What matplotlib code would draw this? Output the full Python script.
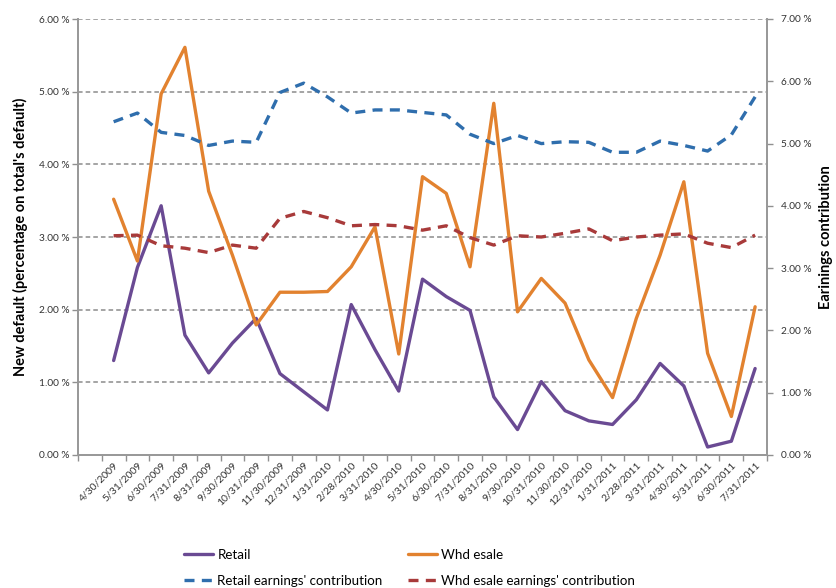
import matplotlib
matplotlib.use("Agg")
import matplotlib.pyplot as plt
from matplotlib.ticker import FuncFormatter, FixedLocator
import numpy as np

dates = ["4/30/2009", "5/31/2009", "6/30/2009", "7/31/2009", "8/31/2009", "9/30/2009",
         "10/31/2009", "11/30/2009", "12/31/2009", "1/31/2010", "2/28/2010", "3/31/2010",
         "4/30/2010", "5/31/2010", "6/30/2010", "7/31/2010", "8/31/2010", "9/30/2010",
         "10/31/2010", "11/30/2010", "12/31/2010", "1/31/2011", "2/28/2011", "3/31/2011",
         "4/30/2011", "5/31/2011", "6/30/2011", "7/31/2011"]

retail = [1.30, 2.58, 3.43, 1.65, 1.13, 1.54, 1.88, 1.12, 0.87, 0.62, 2.07, 1.45,
          0.88, 2.42, 2.18, 1.99, 0.80, 0.35, 1.01, 0.61, 0.47, 0.42, 0.76, 1.26,
          0.95, 0.11, 0.19, 1.19]
wholesale = [3.52, 2.67, 4.97, 5.61, 3.63, 2.75, 1.79, 2.24, 2.24, 2.25, 2.59, 3.14,
             1.39, 3.83, 3.60, 2.59, 4.84, 1.97, 2.43, 2.09, 1.31, 0.79, 1.88, 2.75,
             3.76, 1.40, 0.53, 2.04]
retail_earn = [5.35, 5.49, 5.18, 5.13, 4.97, 5.04, 5.02, 5.82, 5.97, 5.75, 5.49, 5.54,
               5.54, 5.50, 5.46, 5.15, 5.00, 5.13, 5.00, 5.03, 5.02, 4.86, 4.86, 5.04,
               4.97, 4.88, 5.14, 5.75]
wholesale_earn = [3.52, 3.53, 3.36, 3.32, 3.25, 3.37, 3.32, 3.80, 3.91, 3.81, 3.68, 3.70,
                  3.68, 3.61, 3.68, 3.49, 3.37, 3.52, 3.50, 3.56, 3.63, 3.44, 3.50, 3.53,
                  3.55, 3.40, 3.33, 3.53]

labels = ["Retail", "Whd esale", "Retail earnings' contribution", "Whd esale earnings' contribution"]

plt.rcParams['font.family'] = ['Lato', 'DejaVu Sans']

fig = plt.figure(figsize=(8.37, 5.88), dpi=100)
ax = fig.add_axes([78/837, 1-455/588, (767-78)/837, (455-19)/588])
ax2 = ax.twinx()

x = np.arange(len(dates))
c_purple = "#6A4A93"
c_orange = "#E2822F"
c_blue = "#2F6EAD"
c_red = "#A83A3A"

l1, = ax.plot(x, retail, color=c_purple, lw=2.4, solid_capstyle='round', zorder=5)
l2, = ax.plot(x, wholesale, color=c_orange, lw=2.4, solid_capstyle='round', zorder=5)
l3, = ax2.plot(x, retail_earn, color=c_blue, lw=2.4, dashes=(3, 2.2), zorder=4)
l4, = ax2.plot(x, wholesale_earn, color=c_red, lw=2.4, dashes=(3, 2.2), zorder=4)

ax.set_xlim(-1.5, len(dates) - 0.5)
ax.set_ylim(0, 6)
ax2.set_ylim(0, 7)
ax.set_yticks(np.arange(0, 6.01, 1))
ax2.set_yticks(np.arange(0, 7.01, 1))
fmt = FuncFormatter(lambda v, p: f"{v:.2f} %")
ax.yaxis.set_major_formatter(fmt)
ax2.yaxis.set_major_formatter(fmt)

ax.set_xticks(x)
ax.set_xticklabels(dates, rotation=45, ha='right', rotation_mode='anchor', fontsize=7.5, color="#333333")
ax.tick_params(axis='x', which='major', length=0, pad=4)
ax.xaxis.set_minor_locator(FixedLocator(np.arange(-1.5, len(dates), 1.0)))
ax.tick_params(axis='x', which='minor', length=4, width=1, color="#909090", direction='out')

ax.tick_params(axis='y', length=4, width=1, color="#909090", labelsize=7.3, labelcolor="#333333", pad=2)
ax2.tick_params(axis='y', length=4, width=1, color="#909090", labelsize=7.3, labelcolor="#333333", pad=6)

ax.grid(axis='y', color="#8C8C8C", linestyle=(0, (3, 2)), lw=1.1)
ax.set_axisbelow(True)

for a in (ax, ax2):
    a.spines['top'].set_visible(False)
    for s in ('left', 'right', 'bottom'):
        a.spines[s].set_color("#999999")
        a.spines[s].set_linewidth(1.3)

ax.set_ylabel("New default (percentage on total's default)", fontsize=10.5, fontweight='bold', labelpad=8)
ax2.set_ylabel("Earinings contribution", fontsize=10.5, fontweight='bold', labelpad=5)

fig.legend([l1, l3, l2, l4], [labels[0], labels[2], labels[1], labels[3]],
           loc='upper left', bbox_to_anchor=(172/837, 1-537/588),
           ncol=2, frameon=False, fontsize=9.6, handlelength=2.2, handletextpad=0.3,
           columnspacing=1.9, labelspacing=1.05)

fig.savefig("out.png", dpi=100)
